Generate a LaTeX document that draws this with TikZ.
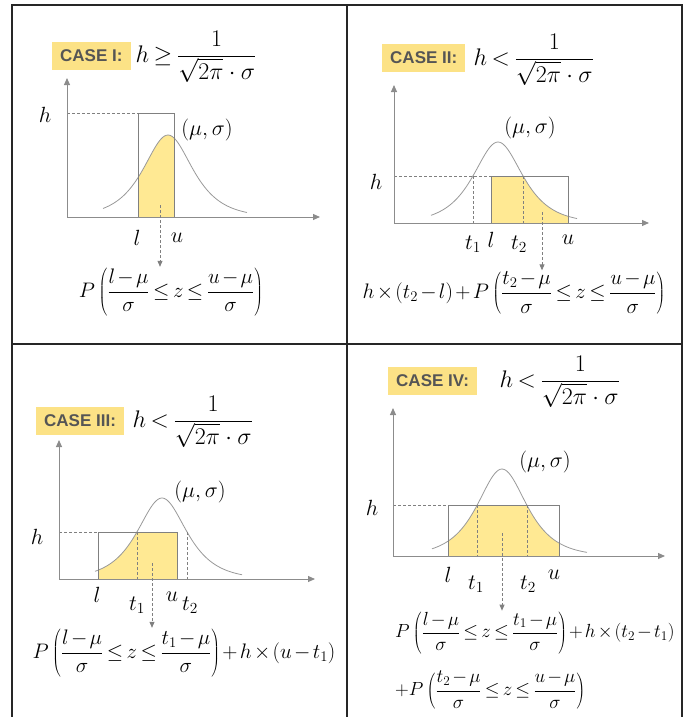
\RequirePackage{fix-cm}
\documentclass[tikz,border=0pt]{standalone}
\usepackage{fontspec}
\newfontfamily\casefont{Liberation Sans}
\usetikzlibrary{arrows.meta}
\definecolor{caseyellow}{HTML}{FCE286}
\definecolor{areayellow}{HTML}{FFE993}
\definecolor{linegray}{HTML}{8C8C8C}
\definecolor{casegray}{HTML}{555555}

\begin{document}
\begin{tikzpicture}[x=1pt,y=-1pt,
  frameline/.style={line width=1.1pt,black!85},
  axisline/.style={line width=1pt,linegray,-{Triangle[length=7pt,width=6pt]}},
  bellline/.style={line width=.8pt,black!40},
  hbox/.style={line width=.9pt,black!50},
  guide/.style={line width=.8pt,black!50,dash pattern=on 3pt off 2pt},
  probarrow/.style={guide,-{Triangle[length=6pt,width=5pt]}},
  casetag/.style={anchor=west,fill=caseyellow,text=casegray,inner xsep=8pt,minimum height=28pt,
    font=\casefont\bfseries\fontsize{17}{20}\selectfont},
  lab/.style={font=\fontsize{22}{26}\selectfont},
  cond/.style={anchor=west,font=\fontsize{24}{28}\selectfont,
    execute at begin node={\thickmuskip=3.5mu}},
  prob/.style={font=\fontsize{21}{26}\selectfont,inner sep=1pt,
    execute at begin node={\thickmuskip=3mu\medmuskip=2mu}},
  declare function={bell(\x,\m)=1/cosh((\x-\m)/22);}]
  \useasboundingbox (0,0) rectangle (691,717);
  \draw[frameline] (12,717) -- (12,5) -- (682,5) -- (682,717);
  \draw[frameline] (347,5) -- (347,717);
  \draw[frameline] (12,344) -- (682,344);

  % case I
  \begin{scope}
    \clip (138,113) rectangle (174,217);
    \fill[areayellow] (103,217) -- plot[domain=103:247,samples=90] (\x,{217-82*bell(\x,168)}) -- (247,217) -- cycle;
  \end{scope}
  \draw[bellline] plot[domain=103:247,samples=90] (\x,{217-82*bell(\x,168)});
  \draw[hbox] (138,217) rectangle (174,113);
  \draw[guide] (67,113) -- (138,113);
  \draw[axisline] (67,217) -- (67,78);
  \draw[axisline] (67,217) -- (320,217);
  \node[casetag] (c1) at (52,56) {CASE I:};
  \node[cond] (q1) at (132,57) {$\displaystyle h\ge\frac{1}{\sqrt{2\pi}\cdot\sigma}$};
  \node[lab] (h1) at (45,115) {$h$};
  \node[lab] (m1) at (207,130) {$(\mu,\sigma)$};
  \node[lab] (l1) at (137,238) {$l$};
  \node[lab] (u1) at (177,238) {$u$};
  \node[prob] (p1) at (171,292) {$\displaystyle P\left(\frac{l-\mu}{\sigma}\le z\le\frac{u-\mu}{\sigma}\right)$};
  \coordinate (a1) at (160,205);
  \draw[probarrow] (a1) -- (a1 |- p1.north);

  % case II
  \begin{scope}
    \clip (491,176) rectangle (568,223);
    \fill[areayellow] (431,223) -- plot[domain=431:577,samples=90] (\x,{223-81*bell(\x,498)}) -- (577,223) -- cycle;
  \end{scope}
  \draw[bellline] plot[domain=431:577,samples=90] (\x,{223-81*bell(\x,498)});
  \draw[hbox] (491,223) rectangle (568,176);
  \draw[guide] (394,176) -- (491,176);
  \draw[guide] (473,176) -- (473,223);
  \draw[guide] (523,176) -- (523,223);
  \draw[axisline] (394,223) -- (394,85);
  \draw[axisline] (394,223) -- (649,223);
  \node[casetag] (c2) at (382,58) {CASE II:};
  \node[cond] (q2) at (470,60) {$\displaystyle h<\frac{1}{\sqrt{2\pi}\cdot\sigma}$};
  \node[lab] (h2) at (376,182) {$h$};
  \node[lab] (m2) at (530,128) {$(\mu,\sigma)$};
  \node[lab] (t12) at (473,244) {$t_1$};
  \node[lab] (l2) at (491,240) {$l$};
  \node[lab] (t22) at (519,244) {$t_2$};
  \node[lab] (u2) at (568,240) {$u$};
  \node[prob] (p2) at (514,293) {$\displaystyle h\times(t_2-l)+P\left(\frac{t_2-\mu}{\sigma}\le z\le\frac{u-\mu}{\sigma}\right)$};
  \coordinate (a2) at (542,212);
  \draw[probarrow] (a2) -- (a2 |- p2.north);

  % case III
  \begin{scope}
    \clip (98,532) rectangle (177,579);
    \fill[areayellow] (95,579) -- plot[domain=95:242,samples=90] (\x,{579-81*bell(\x,162)}) -- (242,579) -- cycle;
  \end{scope}
  \draw[bellline] plot[domain=95:242,samples=90] (\x,{579-81*bell(\x,162)});
  \draw[hbox] (98,579) rectangle (177,532);
  \draw[guide] (59,532) -- (98,532);
  \draw[guide] (137,532) -- (137,579);
  \draw[guide] (187,532) -- (187,579);
  \draw[axisline] (59,579) -- (59,440);
  \draw[axisline] (59,579) -- (315,579);
  \node[casetag] (c3) at (36,421) {CASE III:};
  \node[cond] (q3) at (129,422) {$\displaystyle h<\frac{1}{\sqrt{2\pi}\cdot\sigma}$};
  \node[lab] (h3) at (37,537) {$h$};
  \node[lab] (m3) at (200,492) {$(\mu,\sigma)$};
  \node[lab] (l3) at (97,595) {$l$};
  \node[lab] (t13) at (137,605) {$t_1$};
  \node[lab] (u3) at (172,597) {$u$};
  \node[lab] (t23) at (190,605) {$t_2$};
  \node[prob] (p3) at (184,653) {$\displaystyle P\left(\frac{l-\mu}{\sigma}\le z\le\frac{t_1-\mu}{\sigma}\right)+h\times(u-t_1)$};
  \coordinate (a3) at (152,563);
  \draw[probarrow] (a3) -- (a3 |- p3.north);

  % case IV
  \begin{scope}
    \clip (448,505) rectangle (559,556);
    \fill[areayellow] (432,556) -- plot[domain=432:587,samples=90] (\x,{556-87*bell(\x,502)}) -- (587,556) -- cycle;
  \end{scope}
  \draw[bellline] plot[domain=432:587,samples=90] (\x,{556-87*bell(\x,502)});
  \draw[hbox] (448,556) rectangle (559,505);
  \draw[guide] (393,505) -- (448,505);
  \draw[guide] (477,505) -- (477,556);
  \draw[guide] (527,505) -- (527,556);
  \draw[axisline] (393,556) -- (393,408);
  \draw[axisline] (393,556) -- (665,556);
  \node[casetag] (c4) at (388,381) {CASE IV:};
  \node[cond] (q4) at (496,382) {$\displaystyle h<\frac{1}{\sqrt{2\pi}\cdot\sigma}$};
  \node[lab] (h4) at (372,508) {$h$};
  \node[lab] (m4) at (545,462) {$(\mu,\sigma)$};
  \node[lab] (l4) at (448,575) {$l$};
  \node[lab] (t14) at (476,584) {$t_1$};
  \node[lab] (t24) at (528,584) {$t_2$};
  \node[lab] (u4) at (554,575) {$u$};
  \node[prob,anchor=west,font=\fontsize{19}{24}\selectfont] (p4) at (394,633) {$\displaystyle P\left(\frac{l-\mu}{\sigma}\le z\le\frac{t_1-\mu}{\sigma}\right)+h\times(t_2-t_1)$};
  \node[prob,anchor=west,font=\fontsize{19}{24}\selectfont] (r4) at (394,690) {$\displaystyle +P\left(\frac{t_2-\mu}{\sigma}\le z\le\frac{u-\mu}{\sigma}\right)$};
  \coordinate (a4) at (502,533);
  \draw[probarrow] (a4) -- (a4 |- p4.north);
\end{tikzpicture}
\end{document}
